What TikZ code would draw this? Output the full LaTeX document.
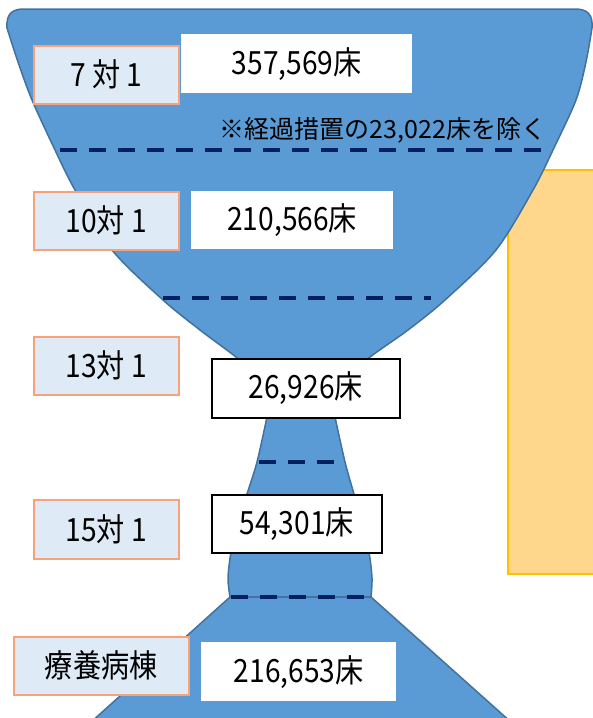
\documentclass[tikz,border=0pt]{standalone}
\usepackage{fontspec}
\setmainfont{Noto Sans CJK JP}
\newfontfamily\cjkn[FakeStretch=0.88]{Noto Sans CJK JP}
\definecolor{bfill}{HTML}{5B9BD5}
\definecolor{bline}{HTML}{41719C}
\definecolor{lfill}{HTML}{DEEAF6}
\definecolor{lline}{HTML}{F7A27A}
\definecolor{navy}{HTML}{002060}
\definecolor{ofill}{HTML}{FFD78C}
\definecolor{oline}{HTML}{FFC000}
\tikzset{
  blueshape/.style={fill=bfill, draw=bline, line width=1.5pt, line join=round},
  dashline/.style={draw=navy, line width=4pt, dash pattern=on 17pt off 12pt},
  lbl/.style={fill=lfill, draw=lline, line width=1.5pt, inner sep=0pt, anchor=north west,
    font=\cjkn\fontsize{32}{32}\selectfont},
  num/.style={fill=white, inner sep=0pt, anchor=north west,
    font=\cjkn\fontsize{32}{32}\selectfont},
  numb/.style={num, draw=black, line width=1.5pt},
  note/.style={font=\fontsize{25}{25}\selectfont, inner sep=0pt}
}
\begin{document}
\begin{tikzpicture}[x=1pt,y=-1pt]
\useasboundingbox (0,0) rectangle (593,718);
\clip (0,0) rectangle (593,718);
% orange panel
\fill[ofill, draw=oline, line width=1.5pt] (508,170) rectangle (600,574);
% bowl
\path[blueshape] (24,9) -- (575,9) .. controls (588,9) and (593,15) .. (592,28)
  -- plot[smooth] coordinates {(592,28) (586,62) (576,100) (553,150) (533,190) (496,250) (445,300) (408,330) (370,357) (336,385)}
  -- (270,385)
  -- plot[smooth] coordinates {(270,385) (236,357) (200,330) (163,300) (112,250) (75,190) (55,150) (32,100) (18,62) (7,28)}
  .. controls (6,14) and (12,9) .. (24,9) -- cycle;
% neck
\path[blueshape] (272,385) -- (267,417)
  -- plot[smooth] coordinates {(267,417) (257,462) (247,494) (237,525) (231,552) (228,578) (230,597)}
  -- (371,597)
  -- plot[smooth] coordinates {(371,597) (372,578) (369,552) (363,525) (354,494) (345,462) (335,417)}
  -- (330,385) -- cycle;
% trapezoid
\path[blueshape] (230,597) -- (371,597) -- (512,723) -- (90,723) -- cycle;
% dashed lines
\draw[dashline] (60,150) -- (552,150);
\draw[dashline] (163,298) -- (431,298);
\draw[dashline] (259,462) -- (344,462);
\draw[dashline] (231,597) -- (370,597);
% labels
\node[lbl, minimum width=145pt, minimum height=58pt] (l7) at (33,45) {7 対 1};
\node[lbl, minimum width=145pt, minimum height=58pt] (l10) at (33,191) {10対 1};
\node[lbl, minimum width=145pt, minimum height=58pt] (l13) at (33,336) {13対 1};
\node[lbl, minimum width=145pt, minimum height=59pt] (l15) at (33,499) {15対 1};
\node[lbl, minimum width=175pt, minimum height=58pt] (lr) at (13,636) {療養病棟};
% numbers
\node[num, minimum width=231pt, minimum height=59pt] (n7) at (181,34) {357,569床};
\node[num, minimum width=202pt, minimum height=58pt] (n10) at (191,191) {210,566床};
\node[numb, minimum width=188pt, minimum height=59pt] (n13) at (211,358) {26,926床};
\node[numb, minimum width=170pt, minimum height=58pt] (n15) at (211,494) {54,301床};
\node[num, minimum width=195pt, minimum height=59pt] (nr) at (201,642) {216,653床};
% note
\node[note] (nt) at (383,130) {※経過措置の23,022床を除く};
\end{tikzpicture}
\end{document}
